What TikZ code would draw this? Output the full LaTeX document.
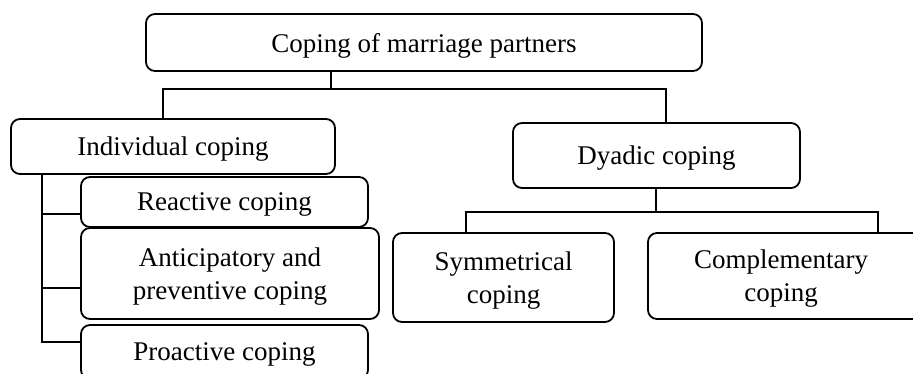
\documentclass[tikz,border=0pt]{standalone}
\usepackage{fontspec}
\setmainfont{Liberation Serif}
\begin{document}
\begin{tikzpicture}[x=1pt,y=-1pt,
  box/.style={draw, rounded corners=9pt, line width=1.8pt, inner sep=0pt,
    align=center, text depth=0pt, font=\fontsize{27}{33}\selectfont},
  link/.style={line width=1.8pt}]
\useasboundingbox (0,0) rectangle (913,374);
\clip (0,0) rectangle (913,374);
\node[box, minimum width=556pt, minimum height=57pt] (top) at (424,42.5) {Coping of marriage partners};
\node[box, minimum width=324pt, minimum height=55pt] (indiv) at (173,146.5) {Individual coping};
\node[box, minimum width=287pt, minimum height=65pt] (dyadic) at (656.5,155.5) {Dyadic coping};
\node[box, minimum width=287pt, minimum height=50pt] (reactive) at (224.5,202) {Reactive coping};
\node[box, minimum width=298pt, minimum height=91pt] (antic) at (230,273.5) {Anticipatory and\\preventive coping};
\node[box, minimum width=287pt, minimum height=54pt] (proact) at (224.5,352) {Proactive coping};
\node[box, minimum width=221pt, minimum height=89pt] (symm) at (503.5,277.5) {Symmetrical\\coping};
\node[box, minimum width=296pt, minimum height=86pt] (compl) at (796,276) {Complementary\hspace*{30pt}\\coping\hspace*{30pt}};
% top bus
\coordinate (b1) at (331,89);
\coordinate (bL) at (163,89);
\coordinate (bR) at (666,89);
\draw[link] (b1 |- top.south) -- (b1);
\draw[link] (bL |- indiv.north) -- (bL) -- (bR) -- (bR |- dyadic.north);
% dyadic bus
\coordinate (d1) at (656,212);
\coordinate (dL) at (466,212);
\coordinate (dR) at (878,212);
\draw[link] (d1 |- dyadic.south) -- (d1);
\draw[link] (dL |- symm.north) -- (dL) -- (dR) -- (dR |- compl.north);
% left spine
\coordinate (s0) at (42,174);
\coordinate (s1) at (42,214);
\coordinate (s2) at (42,288);
\coordinate (s3) at (42,342);
\draw[link] (s0) -- (s3) -- (s3 -| proact.west);
\draw[link] (s1) -- (s1 -| reactive.west);
\draw[link] (s2) -- (s2 -| antic.west);
\end{tikzpicture}
\end{document}
